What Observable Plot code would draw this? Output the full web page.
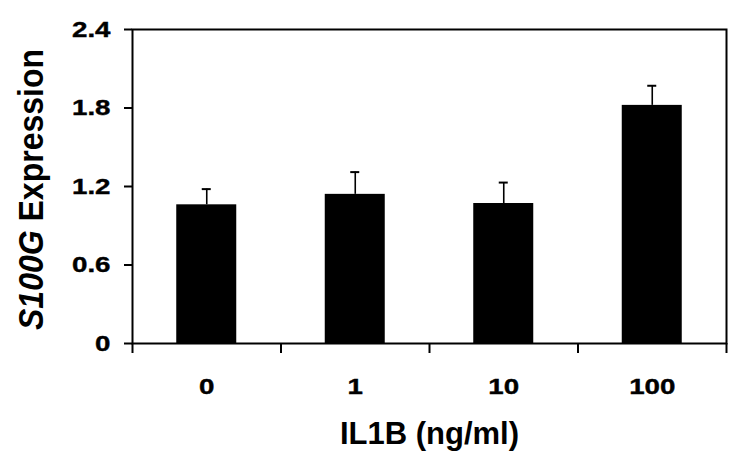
<!DOCTYPE html>
<html><head><meta charset="utf-8">
<script src="https://cdn.jsdelivr.net/npm/d3@7"></script>
<script src="https://cdn.jsdelivr.net/npm/@observablehq/plot@0.6"></script>
<style>
html,body{margin:0;padding:0;background:#fff;}
</style></head><body><div id="chart"></div>
<script>
const doses = ["0", "1", "10", "100"];
const expression = [1.06, 1.14, 1.07, 1.82];
const errorUp = [0.12, 0.17, 0.16, 0.15];
const yTicks = [0, 0.6, 1.2, 1.8, 2.4];
const xTitle = "IL1B (ng/ml)";
const yTitleItalic = "S100G";
const yTitleRest = " Expression";

const data = doses.map((d, i) => ({i, dose: d, value: expression[i], upper: expression[i] + errorUp[i]}));
const boundaries = d3.range(doses.length + 1);
const centers = doses.map((d, i) => i + 0.5);
const yFmt = d => d === 0 ? "0" : d.toFixed(1);

const plot = Plot.plot({
  width: 743, height: 464,
  marginLeft: 132, marginTop: 29, marginRight: 17, marginBottom: 121,
  style: {fontFamily: "'Liberation Sans', Arial, sans-serif", fontWeight: "bold", color: "#000", background: "#fff"},
  x: {domain: [0, doses.length], axis: null},
  y: {domain: [0, 2.4], axis: null},
  marks: [
    Plot.rectY(data, {x1: "i", x2: d => d.i + 1, y: "value", fill: "#000", insetLeft: 44.25, insetRight: 44.25}),
    Plot.ruleX(data, {x: d => d.i + 0.5, y1: "value", y2: "upper", stroke: "#000", strokeWidth: 1.6}),
    Plot.ruleY(data, {x1: d => d.i + 0.5, x2: d => d.i + 0.5, y: "upper", insetLeft: -4.5, insetRight: -4.5, stroke: "#000", strokeWidth: 2}),
    Plot.frame({stroke: "#000", strokeWidth: 2}),
    Plot.axisY({ticks: yTicks, tickSize: 8, tickPadding: 14, strokeWidth: 2, fontSize: 22, label: null, tickFormat: yFmt}),
    Plot.axisX({ticks: boundaries, tickSize: 10, strokeWidth: 2, tickFormat: () => "", label: null}),
    Plot.axisX({ticks: centers, tickSize: 0, tickPadding: 35, fontSize: 22, label: null,
      tickFormat: d => doses[Math.floor(d)]}),
    Plot.text([xTitle], {text: d => d, frameAnchor: "bottom", dy: 91, lineAnchor: "middle", fontSize: 31, fontWeight: "bold"}),
    Plot.text([yTitleItalic + yTitleRest], {text: d => d, frameAnchor: "left", dx: -101, dy: 3, rotate: -90, textAnchor: "middle", lineAnchor: "middle", fontSize: 32, fontWeight: "bold"})
  ]
});
document.getElementById("chart").appendChild(plot);

// tick labels: larger, heavier and stretched horizontally, as in the reference
const tickLabels = new Set([...yTicks.map(yFmt), ...doses]);
d3.select(plot).selectAll("text")
  .filter(function() { return tickLabels.has(this.textContent); })
  .attr("font-size", 22).style("font-size", "22px")
  .attr("stroke", "#000").attr("stroke-width", 0.4)
  .attr("transform", function() { return (this.getAttribute("transform") || "") + " scale(1.26,1)"; });

// italic gene name, slightly taller glyphs
d3.select(plot).selectAll("text").each(function() {
  if (this.textContent === yTitleItalic + yTitleRest) {
    const t = d3.select(this);
    t.text(null);
    t.append("tspan").attr("font-style", "italic").text(yTitleItalic);
    t.append("tspan").text(yTitleRest);
    t.attr("transform", (this.getAttribute("transform") || "") + " scale(1,1.08)");
  }
});
</script>
</body></html>
